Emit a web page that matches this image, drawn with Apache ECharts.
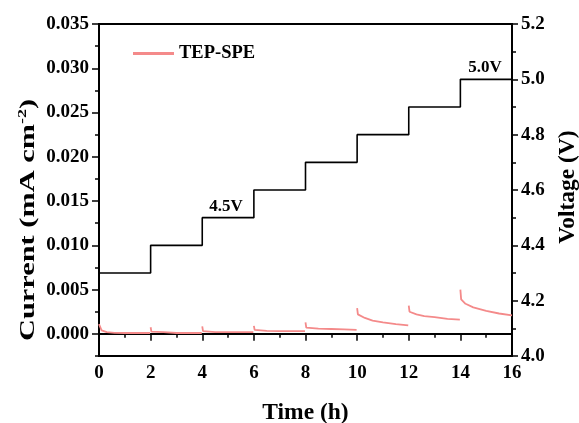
<!DOCTYPE html>
<html>
<head>
<meta charset="utf-8">
<script src="https://cdn.jsdelivr.net/npm/echarts@6/dist/echarts.min.js"></script>
<style>html,body{margin:0;padding:0;background:#fff;}#c{width:579px;height:423px;}</style>
</head>
<body>
<div id="c"></div>
<script>
// ---- data ----
const xTicks = [0, 2, 4, 6, 8, 10, 12, 14, 16];
const currentTicks = [0, 0.005, 0.010, 0.015, 0.020, 0.025, 0.030, 0.035];
const voltageTicks = [4.0, 4.2, 4.4, 4.6, 4.8, 5.0, 5.2];

const voltageTime  = [0, 2, 4, 6, 8, 10, 12, 14, 16];
const voltageLevel = [4.3, 4.4, 4.5, 4.6, 4.7, 4.8, 4.9, 5.0, 5.0];

// current segments (one per voltage step), separated by null
const currentTime = [
  0, 0.1, 0.3, 0.6, 1.0, 1.5, 1.98, null,
  2.0, 2.03, 2.5, 3.0, 3.5, 3.98, null,
  4.0, 4.03, 4.5, 5.0, 5.5, 5.98, null,
  6.0, 6.03, 6.5, 7.0, 7.5, 7.98, null,
  8.0, 8.03, 8.5, 9.0, 9.5, 9.98, null,
  10.0, 10.03, 10.3, 10.6, 11.0, 11.5, 11.98, null,
  12.0, 12.03, 12.3, 12.6, 13.0, 13.5, 13.98, null,
  14.0, 14.03, 14.2, 14.5, 15.0, 15.5, 16.0
];
const currentValue = [
  0.0011, 0.0004, 0.0002, 0.00012, 0.0001, 0.0001, 0.0001, null,
  0.00075, 0.00025, 0.0002, 0.0001, 0.0001, 0.0001, null,
  0.00085, 0.0003, 0.0002, 0.0002, 0.0002, 0.0002, null,
  0.0009, 0.00045, 0.00034, 0.0003, 0.0003, 0.0003, null,
  0.0013, 0.0007, 0.0006, 0.00055, 0.0005, 0.00045, null,
  0.0029, 0.0022, 0.0018, 0.0015, 0.0013, 0.0011, 0.00095, null,
  0.0032, 0.0025, 0.0022, 0.0020, 0.0019, 0.0017, 0.0016, null,
  0.0050, 0.0039, 0.0034, 0.0030, 0.0026, 0.0023, 0.0021
];

const annotations = [
  { text: '4.5V', x: 226, y: 207 },
  { text: '5.0V', x: 485, y: 68 }
];

// ---- build ----
const FONT = 'Liberation Serif';
const axisTxt = { fontFamily: FONT, fontWeight: 'bold', fontSize: 19, color: '#000' };
const nameTxt = { fontFamily: FONT, fontWeight: 'bold', fontSize: 23.5, color: '#000' };
const lineBlack = { color: '#000', width: 2 };
const tickStyle = { color: '#000', width: 1.5 };

const currentData = currentTime.map((t, i) => t === null ? [null, null] : [t, currentValue[i]]);
const voltageData = voltageTime.map((t, i) => [t, voltageLevel[i]]);

const graphics = annotations.map(a => ({
  type: 'text', x: a.x, y: a.y,
  style: { text: a.text, fontFamily: FONT, fontWeight: 'bold', fontSize: 17, fill: '#000', align: 'center', verticalAlign: 'middle' }
}));
// left axis title (rotated, with superscript)
graphics.push({
  type: 'text', x: 28, y: 220, rotation: Math.PI / 2, scaleX: 1.38, scaleY: 1,
  style: {
    text: '{a|Current (mA cm}{sup|-2}{a|)}',
    align: 'center', verticalAlign: 'middle',
    rich: {
      a: { fontFamily: FONT, fontWeight: 'bold', fontSize: 22, fill: '#000', lineHeight: 24 },
      sup: { fontFamily: FONT, fontWeight: 'bold', fontSize: 13, fill: '#000', verticalAlign: 'top', lineHeight: 24, padding: [0, 0, 10, 0] }
    }
  }
});

const chart = echarts.init(document.getElementById('c'), null, { renderer: 'canvas' });
chart.setOption({
  animation: false,
  backgroundColor: '#fff',
  grid: { left: 99, right: 67, top: 24, bottom: 67, show: true, borderColor: '#000', borderWidth: 2,
          containLabel: false, outerBoundsMode: 'none' },
  legend: {
    left: 133, top: 44, padding: 0, itemWidth: 41, itemHeight: 3, itemGap: 10,
    textStyle: Object.assign({}, axisTxt, { fontSize: 18.5 }),
    data: [{ name: 'TEP-SPE', icon: 'rect' }]
  },
  xAxis: {
    type: 'value', min: 0, max: 16, interval: 2,
    name: 'Time (h)', nameLocation: 'middle', nameGap: 45, nameTextStyle: nameTxt,
    axisLine: { lineStyle: lineBlack },
    axisTick: { length: 7, lineStyle: tickStyle },
    minorTick: { show: true, splitNumber: 2, length: 4, lineStyle: tickStyle },
    axisLabel: Object.assign({ margin: 8, customValues: xTicks }, axisTxt),
    splitLine: { show: false }
  },
  yAxis: [
    {
      type: 'value', min: -0.0025, max: 0.035, position: 'left',
      axisLine: { show: true, lineStyle: lineBlack },
      axisTick: { show: true, length: 7, lineStyle: tickStyle, customValues: currentTicks },
      axisLabel: Object.assign({ margin: 10, customValues: currentTicks, formatter: v => v.toFixed(3) }, axisTxt),
      splitLine: { show: false }
    },
    {
      type: 'value', min: -0.0025, max: 0.035, interval: 0.0025, position: 'left',
      axisLine: { show: false }, axisLabel: { show: false },
      axisTick: { show: true, length: 4, lineStyle: tickStyle },
      splitLine: { show: false }
    },
    {
      type: 'value', min: 4.0, max: 5.2, interval: 0.2, position: 'right',
      name: 'Voltage (V)', nameLocation: 'middle', nameGap: 44, nameRotate: 90,
      nameTextStyle: Object.assign({}, nameTxt, { padding: [0, 0, 0, 6] }),
      axisLine: { show: true, lineStyle: lineBlack },
      axisTick: { length: 6, lineStyle: tickStyle },
      minorTick: { show: true, splitNumber: 2, length: 4, lineStyle: tickStyle },
      axisLabel: Object.assign({ margin: 9, customValues: voltageTicks, formatter: v => v.toFixed(1) }, axisTxt),
      splitLine: { show: false }
    }
  ],
  series: [
    {
      name: 'TEP-SPE', type: 'line', yAxisIndex: 0, data: currentData,
      showSymbol: false, symbol: 'none', connectNulls: false,
      lineStyle: { color: '#f48a8a', width: 1.8 }, itemStyle: { color: '#f48a8a' }
    },
    {
      name: 'Voltage', type: 'line', yAxisIndex: 2, data: voltageData, step: 'end',
      showSymbol: false, symbol: 'none',
      lineStyle: { color: '#000', width: 1.6 }, itemStyle: { color: '#000' }
    }
  ],
  graphic: graphics
});
</script>
</body>
</html>
